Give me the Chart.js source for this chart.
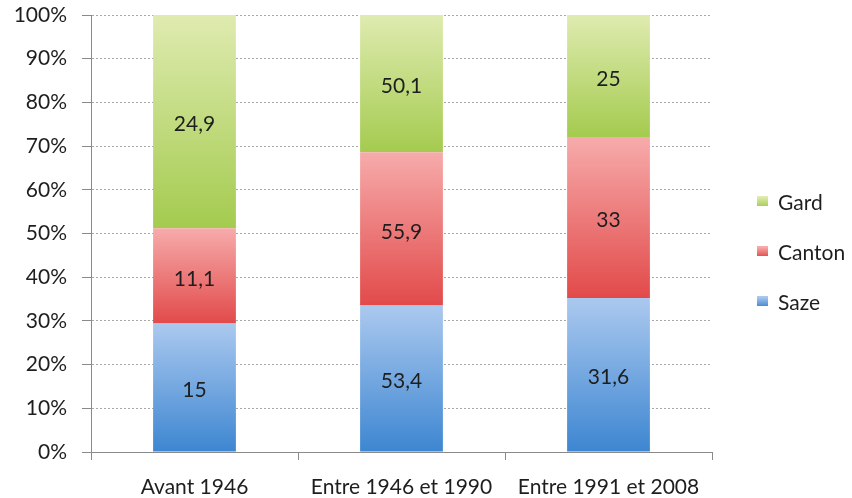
<!DOCTYPE html>
<html>
<head>
<meta charset="utf-8">
<script src="https://cdn.jsdelivr.net/npm/chart.js@4.4.1/dist/chart.umd.min.js"></script>
<style>
  html, body { margin: 0; padding: 0; background: #fff; }
  #wrap { width: 852px; height: 498px; }
</style>
</head>
<body>
<div id="wrap"><canvas id="origineChart"></canvas></div>
<script>
const categories = ['Avant 1946', 'Entre 1946 et 1990', 'Entre 1991 et 2008'];
const saze = [15, 53.4, 31.6];
const canton = [11.1, 55.9, 33];
const gard = [24.9, 50.1, 25];
const yTicks = [0, 10, 20, 30, 40, 50, 60, 70, 80, 90, 100];

// share of each series in its column, in percent
const totals = categories.map((c, i) => saze[i] + canton[i] + gard[i]);
const pct = arr => arr.map((v, i) => v / totals[i] * 100);
const series = [
  { label: 'Saze', raw: saze, top: '#abc9ef', bottom: '#3d86d1' },
  { label: 'Canton', raw: canton, top: '#f7abab', bottom: '#e24a4a' },
  { label: 'Gard', raw: gard, top: '#dfebb0', bottom: '#a4cb4f' }
];

const FONT = 'Lato';
Chart.defaults.font.family = FONT;
Chart.defaults.font.size = 21;
Chart.defaults.color = '#222';

// vertical gradient spanning one stacked segment
function segmentFill(s, idx) {
  return (ctx) => {
    const chart = ctx.chart;
    const y = chart.scales && chart.scales.y;
    if (ctx.type !== 'data' || !y || !chart.chartArea) return s.bottom;
    const i = ctx.dataIndex;
    let base = 0;
    for (let k = 0; k < idx; k++) base += pct(series[k].raw)[i];
    const top = base + pct(s.raw)[i];
    const g = chart.ctx.createLinearGradient(0, y.getPixelForValue(top), 0, y.getPixelForValue(base));
    g.addColorStop(0, s.top);
    g.addColorStop(1, s.bottom);
    return g;
  };
}

const valueLabels = {
  id: 'valueLabels',
  afterDatasetsDraw(chart) {
    const c = chart.ctx;
    c.save();
    c.font = '21px ' + FONT;
    c.fillStyle = '#1e1e1e';
    c.textAlign = 'center';
    c.textBaseline = 'middle';
    chart.data.datasets.forEach((ds, di) => {
      chart.getDatasetMeta(di).data.forEach((bar, i) => {
        const txt = String(series[di].raw[i]).replace('.', ',');
        c.fillText(txt, bar.x, (bar.y + bar.base) / 2 + 3);
      });
    });
    c.restore();
  }
};

const sideLegend = {
  id: 'sideLegend',
  afterDraw(chart) {
    const c = chart.ctx;
    const x = chart.chartArea.right + 45;
    c.save();
    c.font = '21px ' + FONT;
    c.textBaseline = 'middle';
    series.slice().reverse().forEach((s, k) => {
      const cy = 202 + k * 50;
      const g = c.createLinearGradient(0, cy - 5, 0, cy + 5);
      g.addColorStop(0, s.top);
      g.addColorStop(1, s.bottom);
      c.fillStyle = g;
      c.fillRect(x, cy - 6, 11, 10);
      c.fillStyle = '#1e1e1e';
      c.fillText(s.label, x + 21, cy + 1);
    });
    c.restore();
  }
};

new Chart(document.getElementById('origineChart'), {
  type: 'bar',
  data: {
    labels: categories,
    datasets: series.map((s, idx) => ({
      label: s.label,
      data: pct(s.raw),
      backgroundColor: segmentFill(s, idx),
      borderWidth: 0,
      barPercentage: 0.4,
      categoryPercentage: 1.0
    }))
  },
  options: {
    responsive: true,
    maintainAspectRatio: false,
    animation: false,
    layout: { padding: { left: 0, top: 15, right: 140, bottom: 0 } },
    plugins: {
      legend: { display: false },
      tooltip: { enabled: false }
    },
    scales: {
      x: {
        stacked: true,
        afterFit(scale) { scale.height = 46; },
        grid: { offset: true, drawOnChartArea: false, tickLength: 8, tickColor: '#8a8a8a' },
        border: { color: '#8a8a8a', width: 1 },
        ticks: { padding: 15, color: '#1e1e1e', maxRotation: 0 }
      },
      y: {
        stacked: true,
        min: 0,
        max: 100,
        afterFit(scale) {
          scale.width = 91;
          scale.paddingTop = 0;
          scale.paddingBottom = 0;
        },
        afterBuildTicks(scale) { scale.ticks = yTicks.map(v => ({ value: v })); },
        grid: { color: '#a8a8a8', tickLength: 9, tickColor: '#8a8a8a', tickBorderDash: [] },
        border: { color: '#8a8a8a', width: 1, dash: [2, 2] },
        ticks: { padding: 15, color: '#1e1e1e', callback: v => v + '%' }
      }
    }
  },
  plugins: [valueLabels, sideLegend]
});
</script>
</body>
</html>
